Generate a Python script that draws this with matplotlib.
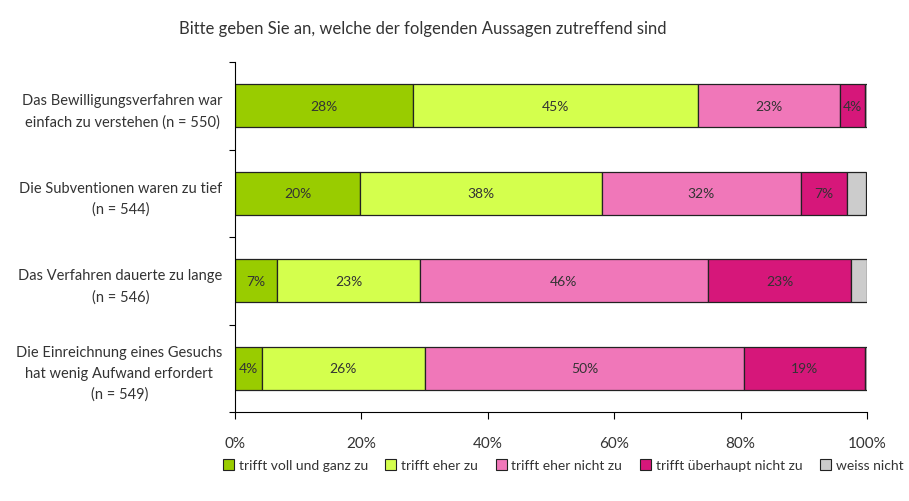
import matplotlib
matplotlib.use("Agg")
import matplotlib.pyplot as plt
import numpy as np
from matplotlib.patches import Patch

plt.rcParams["font.family"] = ["Lato", "DejaVu Sans"]

TITLE = "Bitte geben Sie an, welche der folgenden Aussagen zutreffend sind"

QUESTIONS = [
    "Das Bewilligungsverfahren war\neinfach zu verstehen (n = 550)",
    "Die Subventionen waren zu tief\n(n = 544)",
    "Das Verfahren dauerte zu lange\n(n = 546)",
    "Die Einreichnung eines Gesuchs\nhat wenig Aufwand erfordert\n(n = 549)",
]

CATEGORIES = [
    "trifft voll und ganz zu",
    "trifft eher zu",
    "trifft eher nicht zu",
    "trifft überhaupt nicht zu",
    "weiss nicht",
]

VOLL = [28.2, 19.8, 6.6, 4.2]
EHER = [45.0, 38.2, 22.7, 25.9]
EHER_NICHT = [22.6, 31.5, 45.5, 50.5]
UEBERHAUPT_NICHT = [3.9, 7.4, 22.7, 19.1]
WEISS_NICHT = [0.3, 3.0, 2.5, 0.3]

COLORS = ["#99cc00", "#d4ff4d", "#f077b9", "#d6177a", "#cccccc"]

series = [VOLL, EHER, EHER_NICHT, UEBERHAUPT_NICHT, WEISS_NICHT]

fig = plt.figure(figsize=(9.09, 5.02), dpi=100)
ax = fig.add_axes([235 / 909, 1 - 413 / 502, 632 / 909, 350 / 502])

y = np.arange(len(QUESTIONS))
left = np.zeros(len(QUESTIONS))
for i, (vals, col) in enumerate(zip(series, COLORS)):
    vals = np.array(vals)
    ax.barh(y, vals, left=left, height=0.49, color=col,
            edgecolor="#222222", linewidth=0.9)
    if i < 4:
        for yy, l, v in zip(y, left, vals):
            ax.text(l + v / 2, yy, f"{round(v):.0f}%", ha="center",
                    va="center", fontsize=10, color="#333333")
    left += vals

ax.set_xlim(0, 100)
ax.set_ylim(len(QUESTIONS) - 0.5, -0.5)
ax.set_xticks(np.arange(0, 101, 20))
ax.set_xticklabels([f"{t}%" for t in range(0, 101, 20)], fontsize=11,
                   color="#333333")
ax.set_yticks(y)
ax.set_yticklabels(QUESTIONS, fontsize=10.5, color="#333333",
                   multialignment="center", linespacing=1.6)
ax.set_yticks(np.arange(-0.5, len(QUESTIONS)), minor=True)
ax.tick_params(axis="y", which="major", length=0, pad=9)
ax.tick_params(axis="y", which="minor", length=4, direction="out", width=0.8)
ax.tick_params(axis="x", length=5, direction="out", width=0.8, pad=12)
for s in ["top", "right"]:
    ax.spines[s].set_visible(False)
for s in ["left", "bottom"]:
    ax.spines[s].set_linewidth(0.8)

fig.text(423 / 909, 1 - 29 / 502, TITLE, ha="center", va="center",
         fontsize=12, color="#333333")

handles = [Patch(facecolor=c, edgecolor="#222222", linewidth=0.8)
           for c in COLORS]
fig.legend(handles, CATEGORIES, loc="center", ncol=5,
           bbox_to_anchor=(563 / 909, 1 - 466 / 502), frameon=False,
           fontsize=10, handlelength=0.8, handleheight=0.8,
           handletextpad=0.35, columnspacing=1.25, labelcolor="#333333",
           borderpad=0, borderaxespad=0)

fig.savefig("out.png", dpi=100)
